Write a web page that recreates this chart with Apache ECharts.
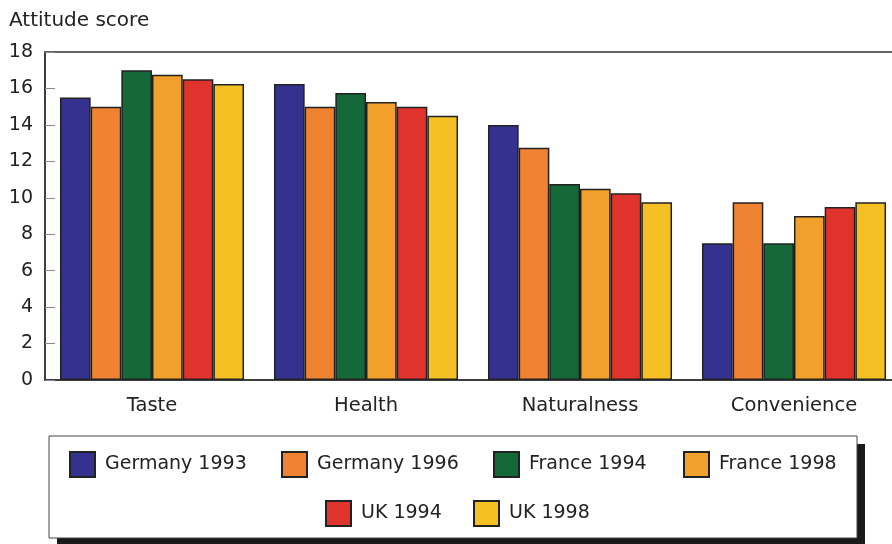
<!DOCTYPE html>
<html>
<head>
<meta charset="utf-8">
<script src="https://cdn.jsdelivr.net/npm/echarts@6/dist/echarts.min.js"></script>
<style>
  html, body { margin: 0; padding: 0; background: #fff; }
  #chart { width: 892px; height: 544px; }
</style>
</head>
<body>
<div id="chart"></div>
<script>
// Attitude scores by product attribute, per country survey
const categories = ['Taste', 'Health', 'Naturalness', 'Convenience'];
const germany1993 = [15.5, 16.25, 14.0, 7.5];
const germany1996 = [15.0, 15.0, 12.75, 9.75];
const france1994  = [17.0, 15.75, 10.75, 7.5];
const france1998  = [16.75, 15.25, 10.5, 9.0];
const uk1994      = [16.5, 15.0, 10.25, 9.5];
const uk1998      = [16.25, 14.5, 9.75, 9.75];
const yTicks = [0, 2, 4, 6, 8, 10, 12, 14, 16, 18];

const seriesDefs = [
  { name: 'Germany 1993', data: germany1993, color: '#34318f' },
  { name: 'Germany 1996', data: germany1996, color: '#f08332' },
  { name: 'France 1994',  data: france1994,  color: '#156837' },
  { name: 'France 1998',  data: france1998,  color: '#f2a02c' },
  { name: 'UK 1994',      data: uk1994,      color: '#e0332c' },
  { name: 'UK 1998',      data: uk1998,      color: '#f5c024' }
];

// legend swatch anchor positions (two rows inside the framed box)
const legendSpots = [
  [69, 451], [281, 451], [493, 451], [683, 451],
  [325, 500], [473, 500]
];

const font = '"DejaVu Sans", "Liberation Sans", sans-serif';
const chart = echarts.init(document.getElementById('chart'), null, { renderer: 'canvas' });

const legends = seriesDefs.map((s, i) => ({
  data: [s.name],
  left: legendSpots[i][0],
  top: legendSpots[i][1],
  padding: 0,
  itemWidth: 25,
  itemHeight: 25,
  icon: 'rect',
  selectedMode: false,
  textStyle: { fontFamily: font, fontSize: 19, color: '#222', padding: [0, 0, 0, 5] },
  z: 5
}));

chart.setOption({
  animation: false,
  title: {
    text: 'Attitude score',
    left: 9, top: 11, padding: 0,
    textStyle: { fontFamily: font, fontSize: 20, fontWeight: 'normal', color: '#222' }
  },
  graphic: [
    { type: 'rect', shape: { x: 57, y: 444, width: 808, height: 102 }, style: { fill: '#1a1a1a' }, z: 0 },
    { type: 'rect', shape: { x: 49, y: 436, width: 808, height: 102 }, style: { fill: '#fff', stroke: '#444', lineWidth: 1 }, z: 1 }
  ],
  legend: legends,
  grid: {
    left: 45, top: 52, width: 856, height: 328,
    outerBoundsMode: 'none',
    containLabel: false,
    show: true, borderColor: '#333', borderWidth: 1.5, backgroundColor: 'transparent'
  },
  xAxis: {
    type: 'category',
    data: categories,
    axisLine: { lineStyle: { color: '#333', width: 1.5 } },
    axisTick: { alignWithLabel: true, length: 10, lineStyle: { color: '#888' } },
    axisLabel: { fontFamily: font, fontSize: 19.5, color: '#222', margin: 16 }
  },
  yAxis: {
    type: 'value',
    min: 0, max: 18, interval: 2,
    axisLine: { show: true, lineStyle: { color: '#333', width: 1.5 } },
    axisTick: { show: true, inside: true, length: 10, lineStyle: { color: '#888' } },
    splitLine: { show: false },
    axisLabel: {
      fontFamily: font, fontSize: 19, color: '#222', margin: 12,
      formatter: v => yTicks.includes(v) ? String(v) : ''
    }
  },
  series: seriesDefs.map(s => ({
    name: s.name,
    type: 'bar',
    data: s.data,
    barGap: '0%',
    barCategoryGap: '14%',
    itemStyle: { color: s.color, borderColor: '#222', borderWidth: 1.5 }
  }))
});
</script>
</body>
</html>
